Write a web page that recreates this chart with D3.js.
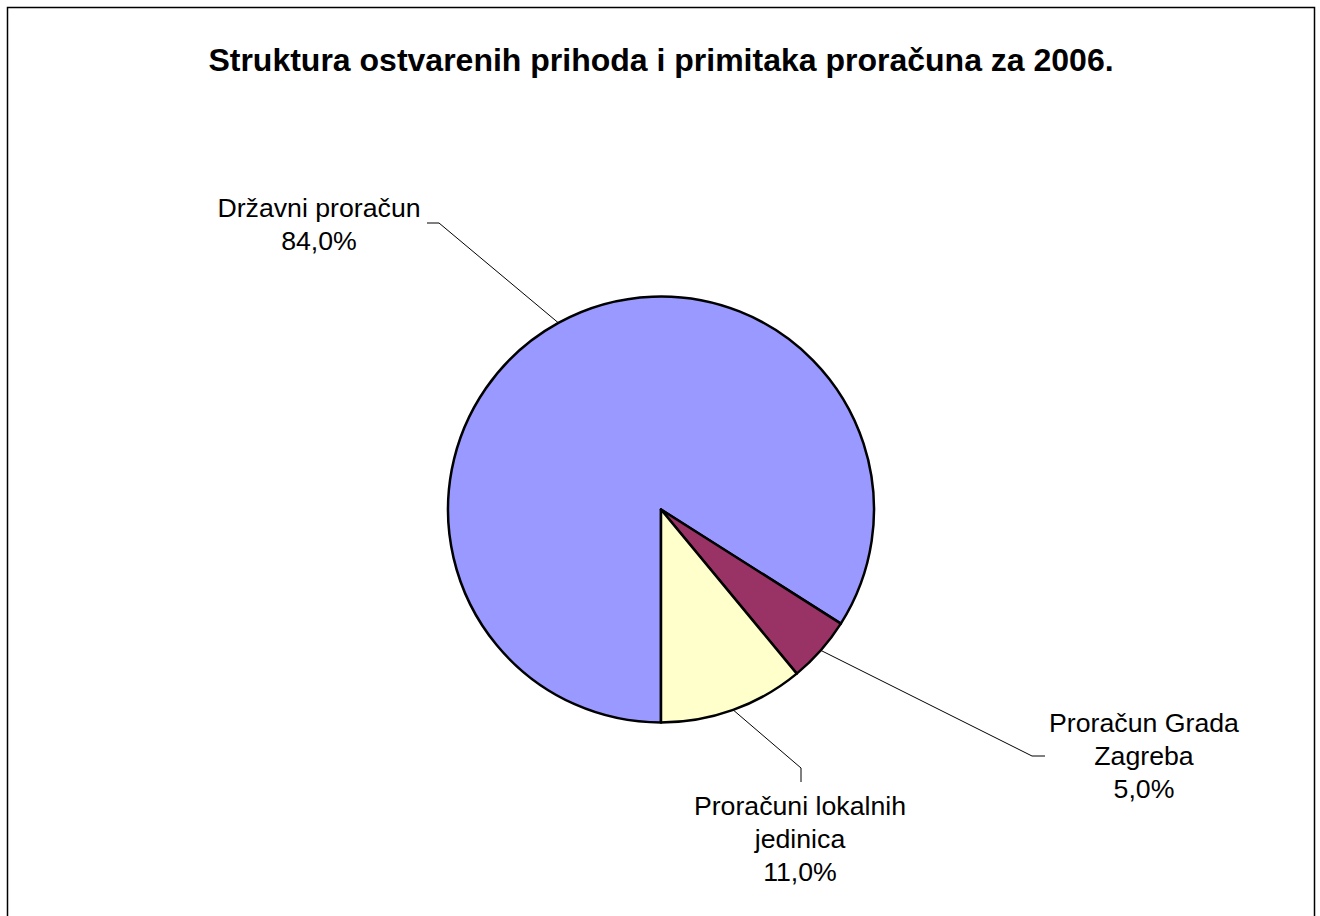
<!DOCTYPE html>
<html>
<head>
<meta charset="utf-8">
<script src="https://cdn.jsdelivr.net/npm/d3@7"></script>
<style>
  body { margin: 0; background: #fff; }
  text { font-family: "Liberation Sans", Arial, sans-serif; fill: #000; }
</style>
</head>
<body>
<div id="chart"></div>
<script>
var title = "Struktura ostvarenih prihoda i primitaka proračuna za 2006.";
var categories = ["Državni proračun", "Proračun Grada Zagreba", "Proračuni lokalnih jedinica"];
var values = [84.0, 5.0, 11.0];
var labelLines = [["Državni proračun"], ["Proračun Grada", "Zagreba"], ["Proračuni lokalnih", "jedinica"]];
var colors = ["#9999ff", "#993366", "#ffffcc"];

var width = 1320;
var height = 916;
var cx = 661, cy = 509.5, radius = 213;

// label anchor (text centre, first baseline) and leader elbow/end, relative to pie centre
var labelLayout = [
  { tx: -342, ty: -293, elbow: [-222, -286.5], end: [-234, -286.5] },
  { tx: 483, ty: 222, elbow: [371, 246.5], end: [384, 246.5] },
  { tx: 139, ty: 305, elbow: [140, 258.5], end: [140, 272.5] }
];

var svg = d3.select("#chart")
            .append("svg")
            .attr("width", width)
            .attr("height", height);

svg.append("rect")
   .attr("x", 7.5)
   .attr("y", 7.5)
   .attr("width", 1307)
   .attr("height", 1000)
   .attr("fill", "#fff")
   .attr("stroke", "#000")
   .attr("stroke-width", 1.5);

svg.append("text")
   .attr("x", 661)
   .attr("y", 71)
   .attr("text-anchor", "middle")
   .attr("font-size", "32px")
   .attr("font-weight", "bold")
   .text(title);

var pie = d3.pie()
            .sort(null)
            .startAngle(Math.PI)
            .endAngle(3 * Math.PI);

var arcs = pie(values);

var arc = d3.arc().innerRadius(0).outerRadius(radius);
var edge = d3.arc().innerRadius(radius).outerRadius(radius);

var group = svg.append("g")
               .attr("transform", "translate(" + cx + "," + cy + ")");

group.selectAll("path.slice")
     .data(arcs)
     .enter()
       .append("path")
       .attr("class", "slice")
       .attr("d", arc)
       .attr("fill", function(d, i) { return colors[i]; })
       .attr("stroke", "#000")
       .attr("stroke-width", 2.5)
       .attr("stroke-linejoin", "round");

var fmt = function(v) { return v.toFixed(1).replace(".", ",") + "%"; };

arcs.forEach(function(d, i) {
  var p = edge.centroid(d);
  var L = labelLayout[i];
  group.append("path")
       .attr("d", d3.line()([p, L.elbow, L.end]))
       .attr("fill", "none")
       .attr("stroke", "#000")
       .attr("stroke-width", 1);

  var t = group.append("text")
               .attr("text-anchor", "middle")
               .attr("font-size", "26.7px");
  labelLines[i].concat([fmt(values[i])]).forEach(function(s, k) {
    t.append("tspan")
     .attr("x", L.tx)
     .attr("y", L.ty + k * 33)
     .text(s);
  });
});
</script>
</body>
</html>
